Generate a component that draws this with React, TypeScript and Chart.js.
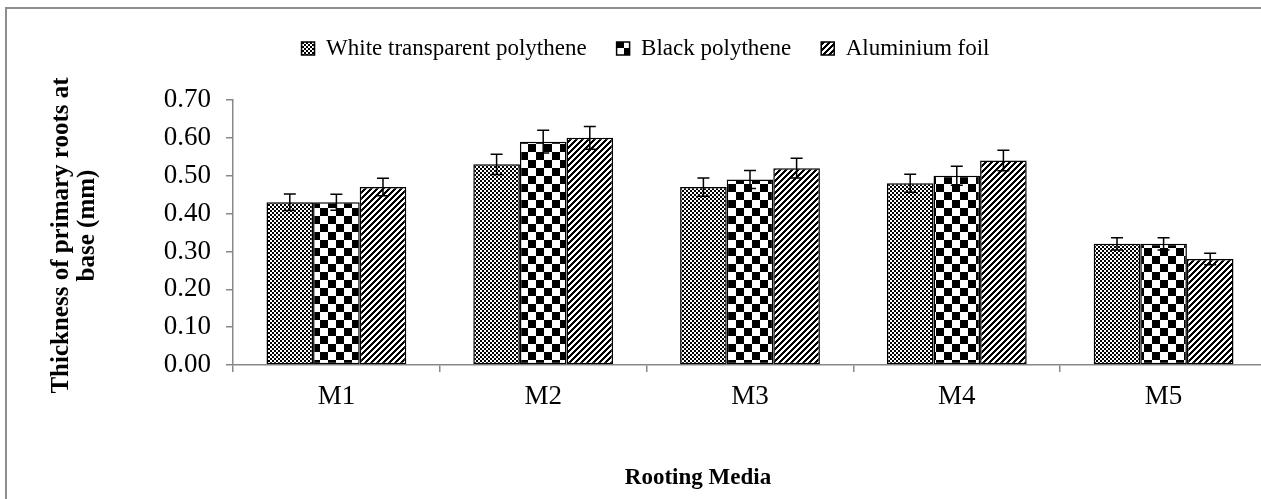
import React, { useEffect, useRef } from 'react';
import { Chart, registerables } from 'chart.js';

Chart.register(...registerables);

const categories = ['M1', 'M2', 'M3', 'M4', 'M5'];
const seriesNames = ['White transparent polythene', 'Black polythene', 'Aluminium foil'];
const whiteTransparent = [0.43, 0.53, 0.47, 0.48, 0.32];
const blackPolythene = [0.43, 0.59, 0.49, 0.5, 0.32];
const aluminiumFoil = [0.47, 0.6, 0.52, 0.54, 0.28];
const whiteTransparentErr = [0.022, 0.027, 0.024, 0.024, 0.016];
const blackPolytheneErr = [0.021, 0.03, 0.024, 0.025, 0.016];
const aluminiumFoilErr = [0.023, 0.03, 0.026, 0.027, 0.015];
const yMin = 0;
const yMax = 0.7;
const yStep = 0.1;
const yAxisTitle = ['Thickness of primary roots at', 'base (mm)'];
const xAxisTitle = 'Rooting Media';

const FONT = '"Liberation Serif", "Times New Roman", serif';
const AXIS_GRAY = '#888888';

function makePattern(kind: string): CanvasPattern | string {
  const c = document.createElement('canvas');
  const ctx = c.getContext('2d');
  if (!ctx) return '#888';
  if (kind === 'fine') {
    c.width = 4;
    c.height = 4;
    ctx.fillStyle = '#fff';
    ctx.fillRect(0, 0, 4, 4);
    ctx.fillStyle = '#000';
    ctx.fillRect(0, 0, 2, 2);
    ctx.fillRect(2, 2, 2, 2);
  } else if (kind === 'checker') {
    c.width = 16;
    c.height = 16;
    ctx.fillStyle = '#fff';
    ctx.fillRect(0, 0, 16, 16);
    ctx.fillStyle = '#000';
    ctx.fillRect(0, 0, 8, 8);
    ctx.fillRect(8, 8, 8, 8);
  } else {
    const s = 6;
    c.width = s;
    c.height = s;
    ctx.fillStyle = '#fff';
    ctx.fillRect(0, 0, s, s);
    ctx.fillStyle = '#000';
    for (let x = 0; x < s; x++) {
      for (let y = 0; y < s; y++) {
        if ((x + y) % s < 3) ctx.fillRect(x, y, 1, 1);
      }
    }
  }
  return ctx.createPattern(c, 'repeat') || '#888';
}

const errorLists = [whiteTransparentErr, blackPolytheneErr, aluminiumFoilErr];

const errorBarPlugin = {
  id: 'errorBars',
  afterDatasetsDraw(chart: any) {
    const ctx = chart.ctx;
    const yScale = chart.scales.y;
    chart.data.datasets.forEach((ds: any, di: number) => {
      const meta = chart.getDatasetMeta(di);
      const errs = errorLists[di];
      meta.data.forEach((bar: any, i: number) => {
        const v = ds.data[i];
        const e = errs[i];
        const yt = yScale.getPixelForValue(v + e);
        const yb = yScale.getPixelForValue(v - e);
        const x = bar.x;
        ctx.save();
        ctx.strokeStyle = '#000';
        ctx.lineWidth = 1.5;
        ctx.beginPath();
        ctx.moveTo(x, yt);
        ctx.lineTo(x, yb);
        ctx.moveTo(x - 6, yt);
        ctx.lineTo(x + 6, yt);
        ctx.moveTo(x - 6, yb);
        ctx.lineTo(x + 6, yb);
        ctx.stroke();
        ctx.restore();
      });
    });
  },
};

const axisTitlePlugin = {
  id: 'axisTitles',
  afterDraw(chart: any) {
    const ctx = chart.ctx;
    const area = chart.chartArea;
    ctx.save();
    ctx.fillStyle = '#000';
    ctx.font = 'bold 25px ' + FONT;
    ctx.textAlign = 'center';
    ctx.textBaseline = 'middle';
    const cy = (area.top + area.bottom) / 2;
    const linePos = [
      { x: area.left - 171, y: cy + 3 },
      { x: area.left - 145, y: cy - 7 },
    ];
    yAxisTitle.forEach((line, i) => {
      ctx.save();
      ctx.translate(linePos[i].x, linePos[i].y);
      ctx.rotate(-Math.PI / 2);
      ctx.fillText(line, 0, 0);
      ctx.restore();
    });
    ctx.font = 'bold 23px ' + FONT;
    ctx.fillText(xAxisTitle, 698, area.bottom + 113);
    ctx.restore();
  },
};

export default function App() {
  const ref = useRef<HTMLCanvasElement | null>(null);

  useEffect(() => {
    if (!ref.current) return;
    const patterns = [makePattern('fine'), makePattern('checker'), makePattern('stripe')];
    const values = [whiteTransparent, blackPolythene, aluminiumFoil];
    const chart = new Chart(ref.current, {
      type: 'bar',
      data: {
        labels: categories,
        datasets: seriesNames.map((name, i) => ({
          label: name,
          data: values[i],
          backgroundColor: patterns[i] as any,
          borderColor: '#000',
          borderWidth: 1.5,
          borderSkipped: false,
          categoryPercentage: 0.676,
          barPercentage: 1,
        })),
      },
      options: {
        responsive: false,
        animation: false,
        devicePixelRatio: 1,
        layout: { padding: { left: 24, right: 1, top: 7, bottom: 0 } },
        plugins: {
          legend: {
            position: 'top',
            labels: {
              font: { family: FONT, size: 23 },
              color: '#000',
              boxWidth: 13,
              boxHeight: 13,
              padding: 30,
            },
          },
          title: {
            display: true,
            text: '',
            position: 'top',
            weight: 500,
            font: { size: 10, lineHeight: 1 },
            padding: { top: 10, bottom: 10 },
          },
          tooltip: { enabled: false },
        },
        scales: {
          x: {
            grid: {
              display: true,
              drawOnChartArea: false,
              drawTicks: true,
              tickLength: 7,
              color: AXIS_GRAY,
              lineWidth: 1.5,
              offset: true,
            },
            border: { display: true, color: AXIS_GRAY, width: 1.5 },
            ticks: { font: { family: FONT, size: 27, lineHeight: 1.2 }, color: '#000', padding: 9 },
            afterFit: (s: any) => {
              s.height = 134;
            },
          },
          y: {
            min: yMin,
            max: yMax,
            grid: {
              display: true,
              drawOnChartArea: false,
              drawTicks: true,
              tickLength: 7,
              color: AXIS_GRAY,
              lineWidth: 1.5,
            },
            border: { display: true, color: AXIS_GRAY, width: 1.5 },
            ticks: {
              stepSize: yStep,
              font: { family: FONT, size: 27, lineHeight: 1.2 },
              color: '#000',
              padding: 15,
              callback: (v: any) => Number(v).toFixed(2),
            },
            afterFit: (s: any) => {
              s.width = 209;
            },
          },
        },
      },
      plugins: [errorBarPlugin, axisTitlePlugin],
    });
    return () => chart.destroy();
  }, []);

  return (
    <div style={{ position: 'absolute', left: 0, top: 0, width: 1261, height: 499, overflow: 'hidden', background: '#fff' }}>
      <div
        style={{
          position: 'absolute',
          left: 5,
          top: 7,
          width: 2000,
          height: 1000,
          borderLeft: '2px solid #8e8e8e',
          borderTop: '2px solid #8e8e8e',
        }}
      />
      <canvas ref={ref} width={1268} height={499} style={{ position: 'absolute', left: 0, top: 0, display: 'block' }} />
    </div>
  );
}
